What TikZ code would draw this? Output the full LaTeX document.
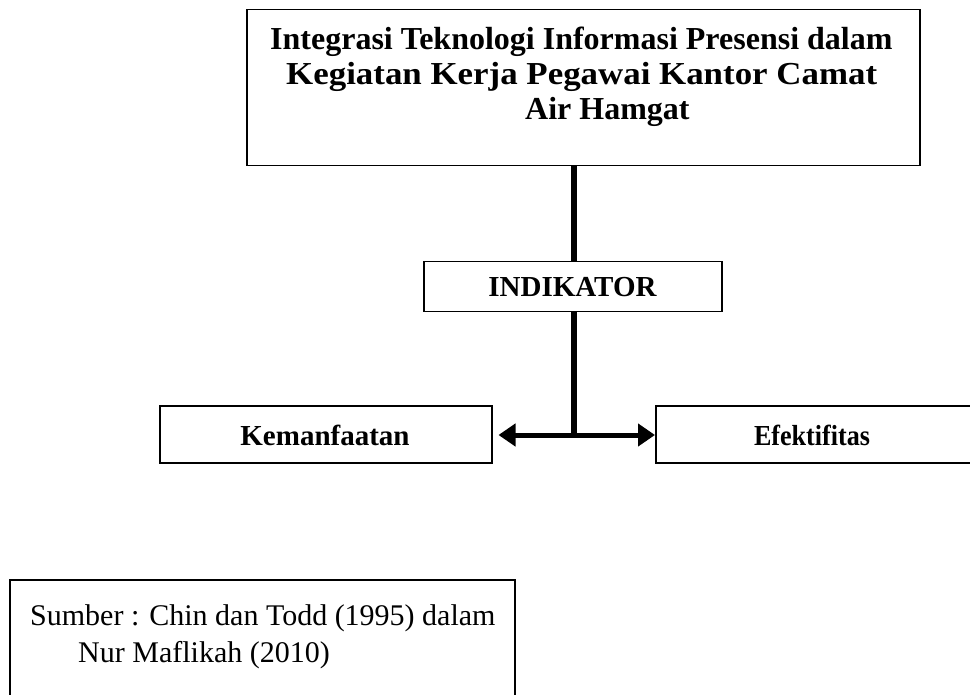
\documentclass[tikz,border=0pt]{standalone}
\usepackage{fontspec}
\setmainfont{Liberation Serif}
\usetikzlibrary{arrows.meta}
\begin{document}
\begin{tikzpicture}[x=1pt,y=-1pt,
  box/.style={draw, line width=1.5pt, inner sep=0pt, anchor=north west},
  titletxt/.style={font=\bfseries\fontsize{32}{35}\selectfont, inner sep=0pt, anchor=base west},
  boldtxt/.style={font=\bfseries\fontsize{29}{35}\selectfont, inner sep=0pt, anchor=base},
  srctxt/.style={font=\fontsize{30}{37}\selectfont, inner sep=0pt, anchor=base west},
  thickline/.style={line width=5.5pt}]
\useasboundingbox (0,0) rectangle (970,695);
\clip (0,0) rectangle (970,695);
% boxes
\node[box, minimum width=673pt, minimum height=156pt] (top) at (246,9) {};
\node[box, minimum width=298pt, minimum height=50pt] (ind) at (423,261) {};
\node[box, minimum width=332pt, minimum height=57pt] (kem) at (159,405) {};
\node[box, minimum width=320pt, minimum height=57pt] (efe) at (655,405) {};
\node[box, minimum width=505pt, minimum height=140pt] (src) at (9,579) {};
% texts
\node[titletxt] (t1) at (270,50) {Integrasi Teknologi Informasi Presensi dalam};
\node[titletxt] (t2) at (286,85) {\scalebox{1.09}[1]{Kegiatan Kerja Pegawai Kantor Camat}};
\node[titletxt] (t3) at (525,120) {Air Hamgat};
\node[boldtxt] (indt) at (572.5,297) {INDIKATOR};
\node[boldtxt] (kemt) at (325,445) {Kemanfaatan};
\node[boldtxt] (efet) at (812,445) {\scalebox{0.9}[1]{Efektifitas}};
\node[srctxt] (s1) at (30,625) {Sumber : Chin dan Todd (1995) dalam};
\node[srctxt] (s2) at (78,662) {Nur Maflikah (2010)};
% connectors
\coordinate (J) at (574,435);
\draw[thickline] (J |- top.south) -- (J |- ind.north);
\draw[thickline] (J |- ind.south) -- (J);
\draw[line width=5pt, {Triangle[length=17pt, width=22pt]}-{Triangle[length=17pt, width=22pt]}] ([xshift=6pt]kem.east |- J) -- (efe.west |- J);
\end{tikzpicture}
\end{document}
